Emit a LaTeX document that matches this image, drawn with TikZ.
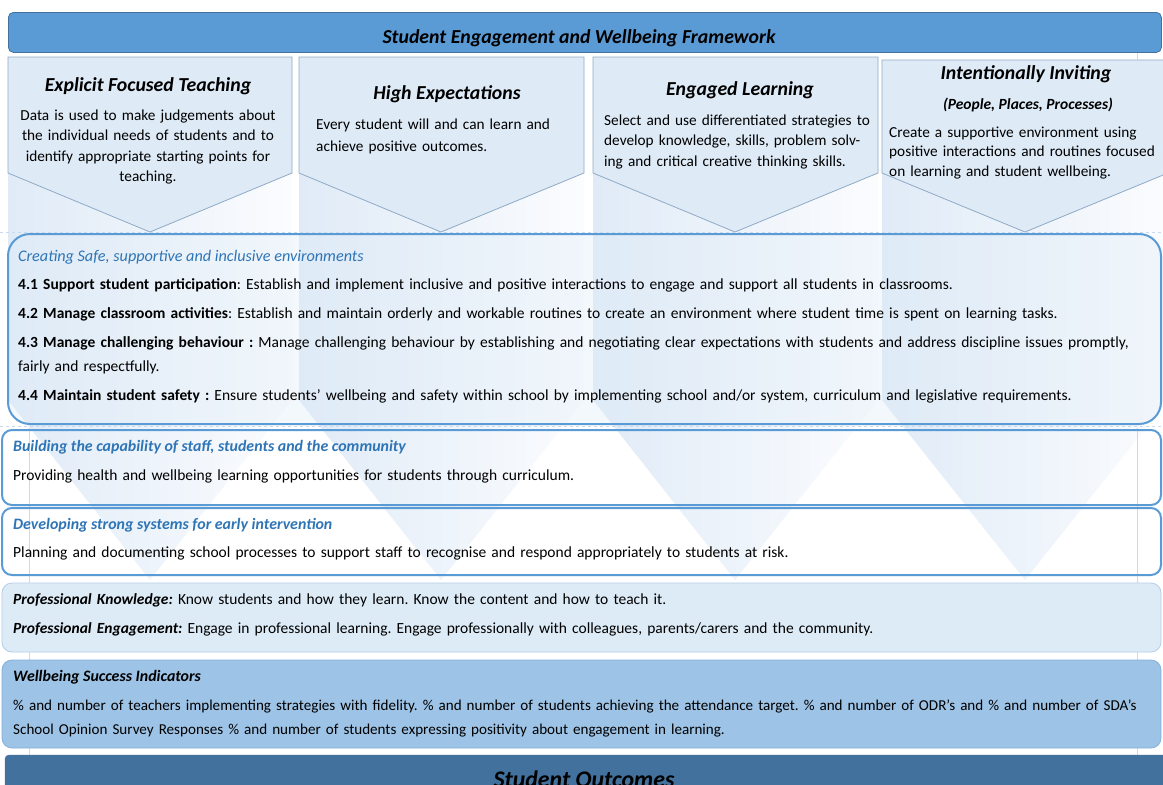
\documentclass[tikz,border=0pt]{standalone}
\usepackage{fontspec}
\setmainfont{Carlito}
\frenchspacing
\definecolor{hdr}{HTML}{5B9BD5}
\definecolor{hdrline}{HTML}{41719C}
\definecolor{pent}{HTML}{DEEAF6}
\definecolor{pentline}{HTML}{8FAAC6}
\definecolor{blueline}{HTML}{5B9BD5}
\definecolor{headblue}{HTML}{2E75B6}
\definecolor{profill}{HTML}{DDEBF7}
\definecolor{proline}{HTML}{B4CDE8}
\definecolor{wsfill}{HTML}{9DC3E6}
\definecolor{wsline}{HTML}{86B0DA}
\definecolor{outfill}{HTML}{41719C}
\definecolor{colL}{HTML}{E0EBF7}
\definecolor{colR}{HTML}{FBFCFE}
\definecolor{faint}{HTML}{C9DAEE}
\begin{document}
\begin{tikzpicture}[x=1pt,y=-1pt,
  body/.style={anchor=base west,inner sep=0pt,align=left,font=\fontsize{15.3}{20.5}\selectfont},
  cbody/.style={anchor=base,inner sep=0pt,align=center,font=\fontsize{15.3}{20.5}\selectfont},
  ptitle/.style={anchor=base,inner sep=0pt,font=\fontsize{19.8}{22}\selectfont\bfseries\itshape},
  line/.style={anchor=base west,inner sep=0pt,font=\fontsize{15.5}{24}\selectfont,text width=1145pt,align=left},
  bluehead/.style={anchor=base west,inner sep=0pt,font=\fontsize{16.2}{18}\selectfont\itshape,text=headblue},
  blueheadb/.style={anchor=base west,inner sep=0pt,font=\fontsize{15.9}{18}\selectfont\bfseries\itshape,text=headblue},
  column/.style={left color=colL,right color=colR},
  pentagon/.style={draw=pentline,line width=0.8pt,fill=pent},
  framebox/.style={draw=blueline,line width=2pt,rounded corners=10pt},
]
\useasboundingbox (0,0) rectangle (1163,785);
\clip (0,0) rectangle (1163,785);
\fill[white] (0,0) rectangle (1163,785);
% background tall chevrons
\foreach \L/\R/\C/\T in {8/292/150/57, 299/584/441/57, 593/878/735/57, 882/1168/1025/60}
  \shade[column] (\L,\T) -- (\R,\T) -- (\R,400) -- (\C,580) -- (\L,400) -- cycle;
% top pentagons
\foreach \L/\R/\C/\T in {8/292/150/57, 299/584/441/57, 593/878/735/57, 882/1168/1025/60}
  \draw[pentagon] (\L,\T) -- (\R,\T) -- (\R,173) -- (\C,232) -- (\L,173) -- cycle;
% faint guide lines
\draw[faint,dashed,line width=0.6pt] (0,232) -- (1163,232) (0,426) -- (1163,426);
\draw[faint,line width=0.6pt] (29,428) -- (29,758) (1137,52) -- (1137,60) (1137,428) -- (1137,758);
% header
\node (hdrbox) [draw=hdrline,line width=0.8pt,fill=hdr,rounded corners=5pt,minimum width=1153pt,minimum height=40pt,inner sep=0pt,anchor=north west] at (8,12) {};
\node (hdrtxt) [anchor=base,inner sep=0pt,font=\fontsize{19.8}{22}\selectfont\bfseries\itshape] at (579,43) {Student Engagement and Wellbeing Framework};
% pentagon texts
\node (t1) [ptitle] at (148,91) {Explicit Focused Teaching};
\node (b1) [cbody,text width=275pt] at (148,120) {Data is used to make judgements about\\the individual needs of students and to\\identify appropriate starting points for\\teaching.};
\node (t2) [ptitle] at (447,99) {High Expectations};
\node (b2) [body,text width=270pt,font=\fontsize{15.3}{22}\selectfont] at (316,129) {Every student will and can learn and\\achieve positive outcomes.};
\node (t3) [ptitle] at (740,95) {Engaged Learning};
\node (b3) [body,text width=280pt] at (604,125) {Select and use differentiated strategies to\\develop knowledge, skills, problem solv-\\ing and critical creative thinking skills.};
\node (t4) [ptitle] at (1026,79) {Intentionally Inviting};
\node (s4) [anchor=base,inner sep=0pt,font=\fontsize{15.5}{18}\selectfont\bfseries\itshape] at (1028,109) {(People, Places, Processes)};
\node (b4) [body,text width=285pt,font=\fontsize{15.3}{19.5}\selectfont] at (889,137) {Create a supportive environment using\\positive interactions and routines focused\\on learning and student wellbeing.};
% creating safe box
\draw[draw=blueline,line width=2pt,fill=profill,fill opacity=0.35,rounded corners=22pt] (8,234) rectangle (1161,424);
\node (c0) [bluehead] at (18,261) {Creating Safe, supportive and inclusive environments};
\node (c1) [line] at (18,289) {\textbf{4.1 Support student participation}: Establish and implement inclusive and positive interactions to engage and support all students in classrooms.};
\node (c2) [line] at (18,318) {\textbf{4.2 Manage classroom activities}: Establish and maintain orderly and workable routines to create an environment where student time is spent on learning tasks.};
\node (c3) [line] at (18,347) {\textbf{4.3 Manage challenging behaviour :} Manage challenging behaviour by establishing and negotiating clear expectations with students and address discipline issues promptly,\\fairly and respectfully.};
\node (c4) [line] at (18,400) {\textbf{4.4 Maintain student safety :} Ensure students’ wellbeing and safety within school by implementing school and/or system, curriculum and legislative requirements.};
% building box
\draw[framebox] (2,430) rectangle (1161,505);
\node (bh) [blueheadb] at (13,451) {Building the capability of staff, students and the community};
\node (bb) [line] at (13,480) {Providing health and wellbeing learning opportunities for students through curriculum.};
% developing box
\draw[framebox] (2,508) rectangle (1161,575);
\node (dh) [blueheadb] at (13,529) {Developing strong systems for early intervention};
\node (db) [line] at (13,557) {Planning and documenting school processes to support staff to recognise and respond appropriately to students at risk.};
% professional box
\draw[draw=proline,line width=0.8pt,fill=profill,rounded corners=10pt] (2,583) rectangle (1161,652);
\node (p1) [line] at (13,604) {\textbf{\textit{Professional Knowledge:}} Know students and how they learn. Know the content and how to teach it.};
\node (p2) [line] at (13,633) {\textbf{\textit{Professional Engagement:}} Engage in professional learning. Engage professionally with colleagues, parents/carers and the community.};
% wellbeing success indicators
\draw[draw=wsline,line width=0.8pt,fill=wsfill,rounded corners=10pt] (2,660) rectangle (1161,748);
\node (wh) [anchor=base west,inner sep=0pt,font=\fontsize{15.9}{18}\selectfont\bfseries\itshape] at (13,681) {Wellbeing Success Indicators};
\node (wb) [line,text width=1148pt,font=\fontsize{15.1}{24}\selectfont] at (13,710) {\% and number of teachers implementing strategies with fidelity. \% and number of students achieving the attendance target. \% and number of ODR’s and \% and number of SDA’s\\School Opinion Survey Responses \% and number of students expressing positivity about engagement in learning.};
% student outcomes
\draw[draw=hdrline,fill=outfill,rounded corners=4pt] (5,755) rectangle (1170,810);
\node (so) [anchor=base,inner sep=0pt,font=\fontsize{23.8}{26}\selectfont\bfseries\itshape] at (584,787) {Student Outcomes};
\end{tikzpicture}
\end{document}
